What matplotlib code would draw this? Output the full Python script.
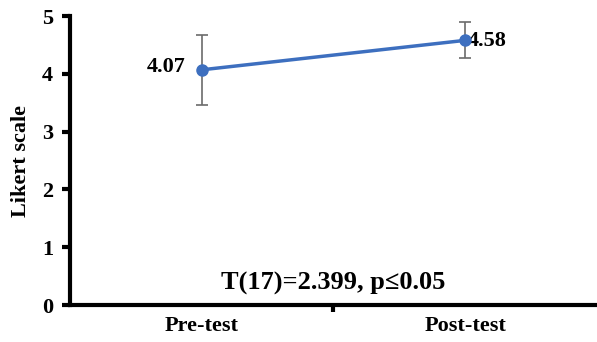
#!/usr/bin/env python3
"""Likert scale pre/post test line chart."""
import matplotlib
matplotlib.use("Agg")
import matplotlib.pyplot as plt

# ===== data =====
categories = ["Pre-test", "Post-test"]
means = [4.07, 4.58]
errors = [0.60, 0.31]
mean_labels = ["4.07", "4.58"]
stat_text = "T(17)=2.399, p\u22640.05"

LINE_COLOR = "#3d6fbf"

plt.rcParams["font.family"] = ["Liberation Serif", "DejaVu Serif"]
plt.rcParams["font.weight"] = "bold"

fig = plt.figure(figsize=(5.97, 3.42), dpi=100)
ax = fig.add_axes([0.117, 0.108, 0.883, 0.845])

x = list(range(len(categories)))
ax.errorbar(x, means, yerr=errors, color=LINE_COLOR, linewidth=2.5,
            marker="o", markersize=8, ecolor="#6b6b6b", elinewidth=1.2,
            capsize=4, capthick=1.2, zorder=3)

ax.text(x[0] - 0.06, means[0] + 0.05, mean_labels[0], ha="right", va="center",
        fontsize=16, fontweight="bold")
ax.text(x[1] + 0.01, means[1] - 0.01, mean_labels[1], ha="left", va="center",
        fontsize=16, fontweight="bold")

ax.text(0.5, 0.37, stat_text, ha="center", va="center", fontsize=19,
        fontweight="bold")

ax.set_xlim(-0.5, 1.5)
ax.set_ylim(0, 5)
ax.set_yticks([0, 1, 2, 3, 4, 5])
ax.set_xticks(x)
ax.set_xticklabels(categories, fontsize=16, fontweight="bold")
ax.set_xticks([0.5], minor=True)
ax.tick_params(axis="x", which="major", length=0, pad=8)
ax.tick_params(axis="x", which="minor", length=5, width=3, direction="out")
ax.tick_params(axis="y", length=6, width=3, direction="out", labelsize=16, pad=6)
for lab in ax.get_yticklabels():
    lab.set_fontweight("bold")

ax.set_ylabel("Likert scale", fontsize=16, fontweight="bold", labelpad=8)

for side in ["top", "right"]:
    ax.spines[side].set_visible(False)
for side in ["left", "bottom"]:
    ax.spines[side].set_linewidth(3)

plt.savefig("out.png", dpi=100)
plt.close()
